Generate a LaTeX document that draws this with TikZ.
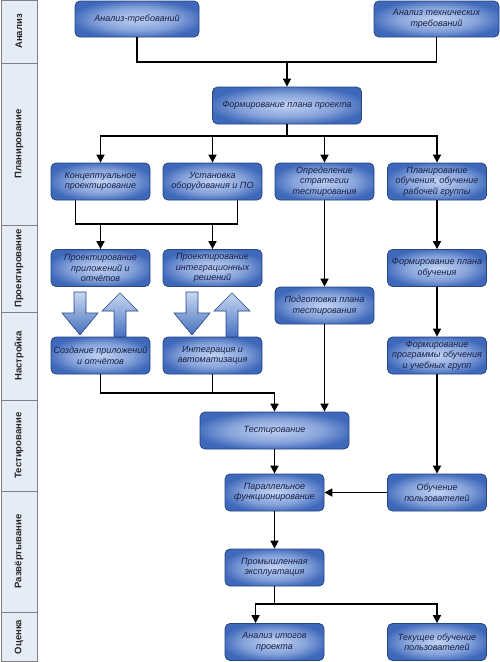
\documentclass[tikz,border=0pt]{standalone}
\usepackage{fontspec}
\setmainfont{Liberation Sans}
\usetikzlibrary{arrows.meta,calc}
\definecolor{boxin}{RGB}{192,210,243}
\definecolor{boxout}{RGB}{62,104,186}
\definecolor{boxline}{RGB}{40,68,130}
\definecolor{boxtext}{RGB}{24,32,70}
\definecolor{colfill}{RGB}{230,236,246}
\definecolor{colline}{RGB}{128,128,128}
\definecolor{barlight}{RGB}{200,216,242}
\definecolor{bardark}{RGB}{70,112,190}
\pgfdeclareradialshading{boxshade}{\pgfpoint{0bp}{0bp}}{color(0bp)=(boxin); color(16bp)=(boxin!55!boxout); color(27bp)=(boxout); color(50bp)=(boxout)}
\tikzset{
  box/.style={draw=boxline, line width=0.8pt, rounded corners=5pt, shading=boxshade,
    minimum width=99pt, minimum height=37pt, inner sep=1pt, align=center,
    text=boxtext, font=\fontsize{9}{10.5}\selectfont\itshape},
  wide/.style={minimum width=149pt},
  line/.style={draw=black, line width=1.6pt},
  arr/.style={line, -{Triangle[length=8pt,width=8pt]}},
  blockarrow/.style={draw=boxline, line width=0.6pt, top color=barlight, bottom color=bardark},
  lane/.style={rotate=90, font=\fontsize{9.5}{11}\selectfont\bfseries, text=black!85}
}
\begin{document}
\begin{tikzpicture}[x=1pt,y=-1pt]
\useasboundingbox (0,0) rectangle (500,662);
% swimlane column
\draw[fill=colfill, draw=colline, line width=0.7pt] (1,0) rectangle (37,661);
\foreach \yy in {63,225,312,400,491,612} \draw[colline, line width=0.7pt] (1,\yy) -- (37,\yy);
\node[lane] (l1) at (19,31.5) {Анализ};
\node[lane] (l2) at (19,144) {Планирование};
\node[lane] (l3) at (19,268.5) {Проектирование};
\node[lane] (l4) at (19,356) {Настройка};
\node[lane] (l5) at (19,445.5) {Тестирование};
\node[lane] (l6) at (19,551.5) {Развёртывание};
\node[lane] (l7) at (19,637) {Оценка};
% nodes
\node[box, minimum width=124pt, minimum height=36pt] (a1) at (137,19) {Анализ-требований};
\node[box, minimum width=125pt, minimum height=36pt] (a2) at (436.5,19) {Анализ технических\\требований};
\node[box, wide] (plan) at (287,105.5) {Формирование плана проекта};
\node[box] (c1) at (100.5,181.5) {Концептуальное\\проектирование};
\node[box] (c2) at (212.5,181.5) {Установка\\оборудования и ПО};
\node[box] (c3) at (324.5,181.5) {Определение\\стратегии\\тестирования};
\node[box] (c4) at (437,181.5) {Планирование\\обучения, обучение\\рабочей группы};
\node[box] (p1) at (100.5,268) {Проектирование\\приложений и\\отчётов};
\node[box] (p2) at (212.5,268) {Проектирование\\интеграционных\\решений};
\node[box] (p4) at (437,268) {Формирование плана\\обучения};
\node[box] (p3) at (324.5,305.5) {Подготовка плана\\тестирования};
\node[box] (s1) at (100.5,355.5) {Создание приложений\\и отчётов};
\node[box] (s2) at (212.5,355.5) {Интеграция и\\автоматизация};
\node[box] (s4) at (437,355.5) {Формирование\\программы обучения\\и учебных групп};
\node[box, wide] (t) at (274.5,430.5) {Тестирование};
\node[box] (par) at (274.5,492.5) {Параллельное\\функционирование};
\node[box] (ob) at (437,492.5) {Обучение\\пользователей};
\node[box] (prom) at (274.5,567.5) {Промышленная\\эксплуатация};
\node[box] (an) at (274.5,642) {Анализ итогов\\проекта};
\node[box] (tek) at (437,642) {Текущее обучение\\пользователей};
% block arrows
\foreach \dx in {0,112} {
  \path[blockarrow] (74+\dx,292) -- (86+\dx,292) -- (86+\dx,313) -- (98+\dx,313) -- (80+\dx,335) -- (62+\dx,313) -- (74+\dx,313) -- cycle;
  \path[blockarrow] (114+\dx,337) -- (126+\dx,337) -- (126+\dx,311) -- (138+\dx,311) -- (120+\dx,293) -- (102+\dx,311) -- (114+\dx,311) -- cycle;
}
% connectors
\coordinate (j1) at (287,62);
\draw[line] (a1.south) |- (j1);
\draw[line] (a2.south) |- (j1);
\draw[arr] (j1) -- (plan.north);
\coordinate (j2) at (287,136);
\draw[line] (plan.south) -- (j2);
\draw[arr] (j2) -| (c1.north);
\draw[arr] (j2) -| (c2.north);
\draw[arr] (j2) -| (c3.north);
\draw[arr] (j2) -| (c4.north);
\coordinate (c1q) at ($(c1.south west)!0.25!(c1.south east)$);
\coordinate (c2q) at ($(c2.south west)!0.75!(c2.south east)$);
\coordinate (j3) at (156,224);
\draw[line] (c1q) |- (j3) -| (c2q);
\draw[arr] (p1.north |- j3) -- (p1.north);
\draw[arr] (p2.north |- j3) -- (p2.north);
\draw[arr] (c3.south) -- (p3.north);
\draw[arr] (c4.south) -- (p4.north);
\draw[arr] (p4.south) -- (s4.north);
\draw[arr] (s4.south) -- (ob.north);
\coordinate (j5) at (274.5,393);
\draw[arr] (s1.south) |- (j5) -- (t.north);
\draw[line] (s2.south) -- (s2.south |- j5);
\draw[arr] (p3.south) -- (p3.south |- t.north);
\draw[arr] (t.south) -- (par.north);
\draw[arr] (ob.west) -- (par.east);
\draw[arr] (par.south) -- (prom.north);
\coordinate (j6) at (274.5,604);
\coordinate (anq) at ($(an.north west)!0.31!(an.north east)$);
\draw[line] (prom.south) -- (j6);
\draw[arr] (j6) -| (anq);
\draw[arr] (j6) -| (tek.north);
\end{tikzpicture}
\end{document}
